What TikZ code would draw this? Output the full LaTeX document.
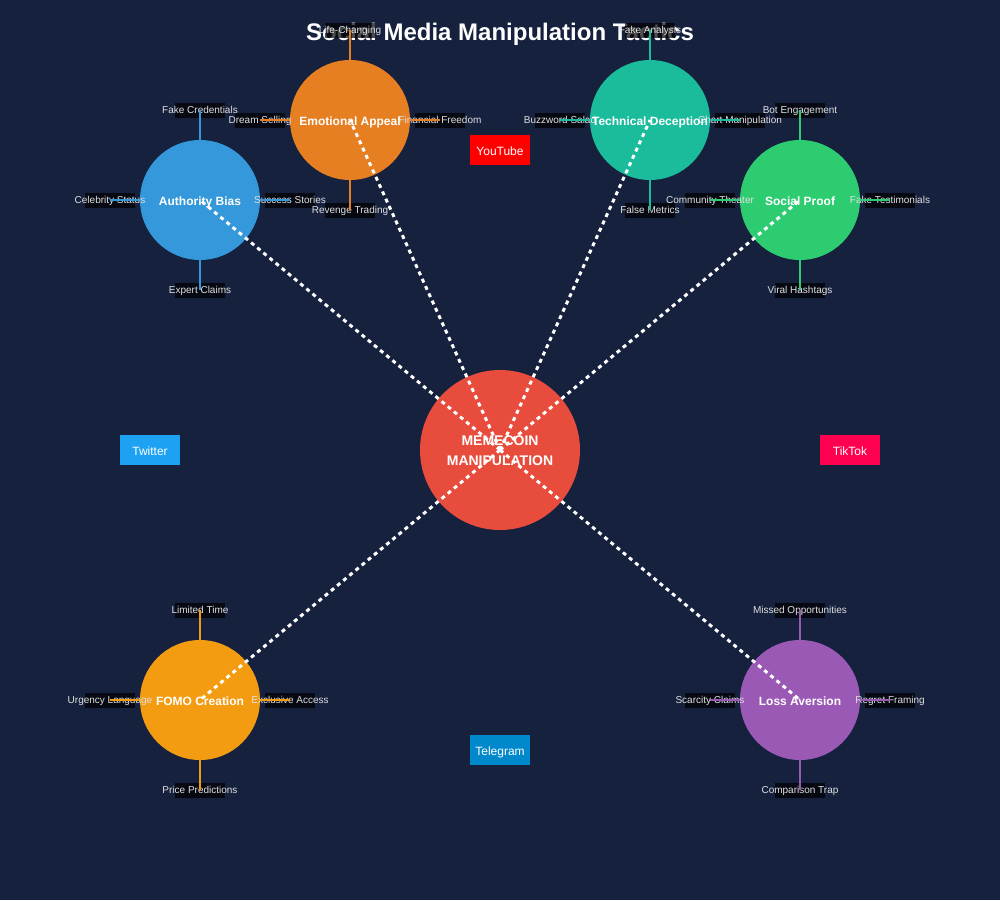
\documentclass[tikz,border=0pt]{standalone}
\usepackage{fontspec}
\setmainfont{Liberation Sans}
\definecolor{bg}{HTML}{16213E}
\definecolor{authc}{HTML}{3498DB}
\definecolor{emoc}{HTML}{E67E22}
\definecolor{techc}{HTML}{1ABC9C}
\definecolor{socc}{HTML}{2ECC71}
\definecolor{fomoc}{HTML}{F39C12}
\definecolor{lossc}{HTML}{9B59B6}
\definecolor{corec}{HTML}{E74C3C}
\definecolor{labgray}{HTML}{E0E0E0}
\definecolor{ytc}{HTML}{FF0000}
\definecolor{twc}{HTML}{1DA1F2}
\definecolor{ttc}{HTML}{FF0050}
\definecolor{tgc}{HTML}{0088CC}
\tikzset{
  sat/.style={circle, minimum size=120pt, inner sep=0pt, fill=#1, draw=none},
  sattext/.style={text=white, font=\bfseries\fontsize{12}{14}\selectfont, inner sep=0pt, text height=8.6pt, text depth=0pt, yshift=-0.8pt},
  labbox/.style={minimum width=50pt, minimum height=15pt, inner sep=0pt, fill=black, fill opacity=0.7, draw=none},
  labtext/.style={text=labgray, font=\fontsize{10}{12}\selectfont, inner sep=0pt, text height=7.2pt, text depth=0pt, yshift=0.3pt},
  spoke/.style={draw=#1, line width=2pt},
  link/.style={draw=white, line width=3pt, dash pattern=on 4pt off 4pt},
  plat/.style={minimum width=60pt, minimum height=30pt, inner sep=0pt, fill=#1, draw=none},
  plattext/.style={text=white, font=\fontsize{12}{14}\selectfont, inner sep=0pt, text height=8.6pt, text depth=0pt, yshift=-0.8pt},
}
\begin{document}
\begin{tikzpicture}[x=1pt,y=-1pt]
\useasboundingbox (0,0) rectangle (1000,900);
\fill[bg] (0,0) rectangle (1000,900);
\node[text=white, font=\bfseries\fontsize{24}{28}\selectfont, inner sep=0pt, text height=17.2pt, text depth=0pt] (title) at (500,32) {Social Media Manipulation Tactics};
\foreach \n/\x/\y/\c/\t/\a/\b/\d/\e in {
  auth/200/200/authc/Authority Bias/Fake Credentials/Success Stories/Expert Claims/Celebrity Status,
  emo/350/120/emoc/Emotional Appeal/Life-Changing/Financial Freedom/Revenge Trading/Dream Selling,
  tech/650/120/techc/Technical Deception/Fake Analysis/Chart Manipulation/False Metrics/Buzzword Salad,
  soc/800/200/socc/Social Proof/Bot Engagement/Fake Testimonials/Viral Hashtags/Community Theater,
  fomo/200/700/fomoc/FOMO Creation/Limited Time/Exclusive Access/Price Predictions/Urgency Language,
  loss/800/700/lossc/Loss Aversion/Missed Opportunities/Regret Framing/Comparison Trap/Scarcity Claims}
{
  \node[sat=\c] (\n) at (\x,\y) {};
  \node[labbox] (\n-t) at (\x,\y-90) {};
  \node[labbox] (\n-r) at (\x+90,\y) {};
  \node[labbox] (\n-b) at (\x,\y+90) {};
  \node[labbox] (\n-l) at (\x-90,\y) {};
  \node[labtext] (\n-tt) at (\n-t) {\a};
  \node[labtext] (\n-rt) at (\n-r) {\b};
  \node[labtext] (\n-bt) at (\n-b) {\d};
  \node[labtext] (\n-lt) at (\n-l) {\e};
  \draw[spoke=\c] (\n-t.center) -- (\n);
  \draw[spoke=\c] (\n-r.center) -- (\n);
  \draw[spoke=\c] (\n-b.center) -- (\n);
  \draw[spoke=\c] (\n-l.center) -- (\n);
  \node[sattext] (\n-name) at (\n) {\t};
}
\node[sat=corec, minimum size=160pt] (core) at (500,450) {};
\node[text=white, font=\bfseries\fontsize{14}{20}\selectfont, inner sep=0pt, text height=10pt, text depth=0pt] (core-a) at (500,440) {MEMECOIN};
\node[text=white, font=\bfseries\fontsize{14}{20}\selectfont, inner sep=0pt, text height=10pt, text depth=0pt] (core-b) at (500,460.5) {MANIPULATION};
\foreach \n in {auth,emo,tech,soc,fomo,loss}
  \draw[link] (core.center) -- (\n.center);
\node[plat=ytc] (yt) at (500,150) {};
\node[plattext] (yt-t) at (yt) {YouTube};
\node[plat=twc] (tw) at (150,450) {};
\node[plattext] (tw-t) at (tw) {Twitter};
\node[plat=ttc] (tt) at (850,450) {};
\node[plattext] (tt-t) at (tt) {TikTok};
\node[plat=tgc] (tg) at (500,750) {};
\node[plattext] (tg-t) at (tg) {Telegram};
\end{tikzpicture}
\end{document}
